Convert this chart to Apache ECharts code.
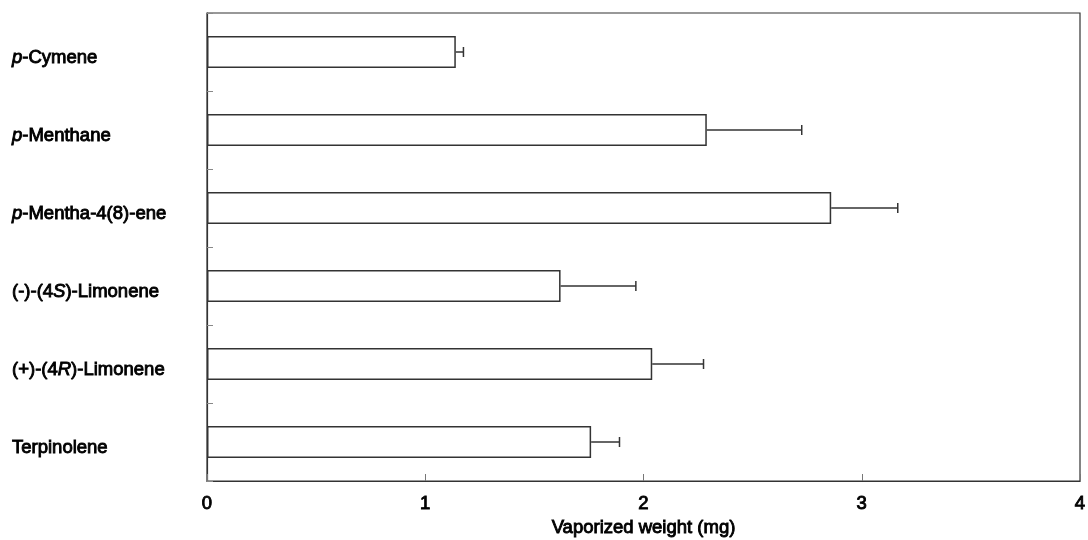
<!DOCTYPE html>
<html>
<head>
<meta charset="utf-8">
<script src="https://cdn.jsdelivr.net/npm/echarts@6/dist/echarts.min.js"></script>
<style>
  html, body { margin: 0; padding: 0; background: #fff; }
  #chart { width: 1088px; height: 540px; }
</style>
</head>
<body>
<div id="chart"></div>
<script>
// Compounds, top to bottom
const categories = [
  '{i|p}-Cymene',
  '{i|p}-Menthane',
  '{i|p}-Mentha-4(8)-ene',
  '(-)-(4{i|S})-Limonene',
  '(+)-(4{i|R})-Limonene',
  'Terpinolene'
];
// Mean vaporized weight (mg)
const meanWeight = [1.14, 2.29, 2.86, 1.62, 2.04, 1.76];
// Upper error (mg)
const errorUp = [0.035, 0.435, 0.305, 0.345, 0.235, 0.13];
const xTicks = [0, 1, 2, 3, 4];

const FONT = '"Liberation Sans", Arial, sans-serif';
const TEXT = {
  fontFamily: FONT, fontSize: 18.5, fontWeight: 'normal', color: '#000',
  textBorderColor: '#000', textBorderWidth: 0.9
};
const errorData = meanWeight.map((v, i) => [v, i, errorUp[i]]);

const chart = echarts.init(document.getElementById('chart'), null, { renderer: 'canvas' });
chart.setOption({
  animation: false,
  backgroundColor: '#fff',
  grid: {
    left: 207, right: 8, top: 13, bottom: 59,
    outerBoundsMode: 'none',
    containLabel: false,
    show: true, borderColor: '#333', borderWidth: 1.2, backgroundColor: 'transparent'
  },
  xAxis: {
    type: 'value',
    min: xTicks[0], max: xTicks[xTicks.length - 1], interval: 1,
    name: 'Vaporized weight (mg)',
    nameLocation: 'middle',
    nameGap: 36,
    nameTextStyle: Object.assign({}, TEXT),
    axisLine: { show: true, lineStyle: { color: '#333', width: 1.2 } },
    axisTick: { show: true, inside: true, length: 7, lineStyle: { color: '#777' } },
    axisLabel: Object.assign({ margin: 13 }, TEXT),
    splitLine: { show: false }
  },
  yAxis: {
    type: 'category',
    inverse: true,
    data: categories,
    axisLine: { show: true, lineStyle: { color: '#333', width: 1.2 } },
    axisTick: { show: true, inside: true, length: 6, lineStyle: { color: '#888' } },
    axisLabel: Object.assign({
      align: 'left',
      margin: 195,
      padding: [11, 0, 0, 0],
      rich: {
        i: Object.assign({}, TEXT, { fontStyle: 'italic' })
      }
    }, TEXT),
    splitLine: { show: false }
  },
  series: [
    {
      type: 'bar',
      data: meanWeight,
      barWidth: '41%',
      itemStyle: { color: '#fff', borderColor: '#333', borderWidth: 1.5 },
      z: 2
    },
    {
      type: 'custom',
      data: errorData,
      z: 3,
      renderItem: function (params, api) {
        const v = api.value(0), idx = api.value(1), e = api.value(2);
        const p0 = api.coord([v, idx]);
        const p1 = api.coord([v + e, idx]);
        const cap = 5;
        const style = { stroke: '#333', lineWidth: 1.5, fill: null };
        return {
          type: 'group',
          children: [
            { type: 'line', shape: { x1: p0[0], y1: p0[1], x2: p1[0], y2: p1[1] }, style: style },
            { type: 'line', shape: { x1: p1[0], y1: p1[1] - cap, x2: p1[0], y2: p1[1] + cap }, style: style }
          ]
        };
      }
    }
  ]
});
</script>
</body>
</html>
